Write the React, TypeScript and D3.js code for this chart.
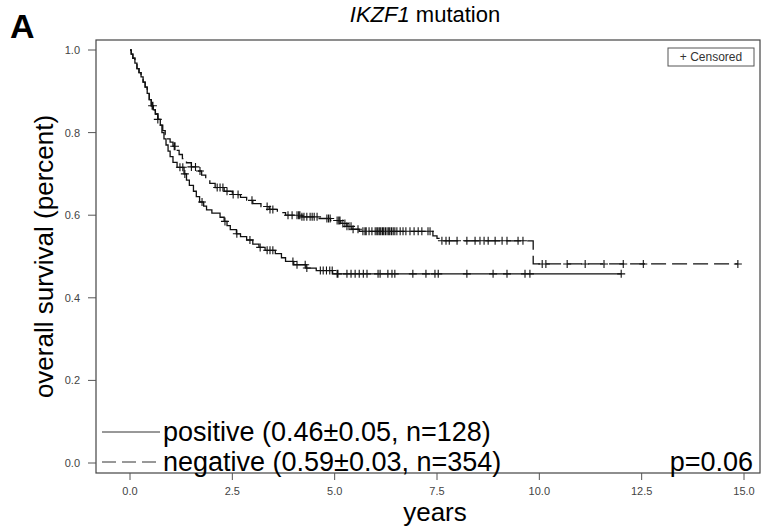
import * as d3 from "d3";

// step points: time (years) where survival drops, new survival
const sharedTimes = [0.03, 0.07, 0.12, 0.17, 0.22, 0.27, 0.32, 0.37, 0.42, 0.47, 0.52, 0.57, 0.62, 0.68, 0.74];
const sharedSurv = [0.99, 0.98, 0.968, 0.955, 0.945, 0.935, 0.922, 0.91, 0.895, 0.88, 0.865, 0.855, 0.845, 0.832, 0.818];

const positiveTimes = [0.78, 0.83, 0.88, 0.93, 0.98, 1.05, 1.15, 1.32, 1.38, 1.45, 1.55, 1.62, 1.7, 1.8, 1.87, 2.0, 2.2, 2.3, 2.37, 2.45, 2.6, 2.7, 2.85, 3.0, 3.15, 3.3, 3.55, 3.7, 3.8, 4.0, 4.3, 4.55, 4.95];
const positiveSurv = [0.8, 0.785, 0.77, 0.755, 0.742, 0.728, 0.716, 0.7, 0.685, 0.672, 0.658, 0.645, 0.632, 0.622, 0.613, 0.605, 0.595, 0.585, 0.575, 0.565, 0.555, 0.548, 0.54, 0.53, 0.522, 0.515, 0.507, 0.497, 0.488, 0.48, 0.472, 0.466, 0.458];
const positiveEnd = 12.0;
const positiveCensored = [1.22, 1.29, 1.34, 1.76, 2.32, 2.61, 2.93, 3.18, 3.35, 3.42, 3.49, 3.98, 4.08, 4.28, 4.32, 4.65, 4.72, 4.8, 4.88, 4.94, 5.06, 5.08, 5.3, 5.4, 5.5, 5.6, 5.7, 5.79, 6.06, 6.11, 6.3, 6.4, 6.47, 6.91, 7.23, 7.45, 7.53, 8.23, 8.87, 9.21, 9.65, 9.77, 12.0];

const negativeTimes = [0.8, 0.86, 0.92, 0.98, 1.05, 1.12, 1.2, 1.28, 1.38, 1.5, 1.62, 1.75, 1.85, 1.95, 2.08, 2.3, 2.5, 2.7, 2.85, 3.0, 3.2, 3.4, 3.6, 3.8, 4.2, 4.6, 4.9, 5.15, 5.3, 5.42, 5.6, 7.4, 7.5, 7.6, 9.85];
const negativeSurv = [0.805, 0.795, 0.785, 0.777, 0.767, 0.757, 0.747, 0.737, 0.727, 0.717, 0.707, 0.697, 0.687, 0.677, 0.667, 0.658, 0.65, 0.643, 0.636, 0.628, 0.621, 0.614, 0.606, 0.6, 0.596, 0.592, 0.587, 0.58, 0.573, 0.566, 0.561, 0.55, 0.544, 0.538, 0.482];
const negativeEnd = 14.85;
const negativeCensored = [0.54, 0.56, 0.68, 1.08, 1.1, 1.5, 1.6, 1.71, 2.13, 2.2, 2.27, 2.37, 2.52, 2.64, 2.98, 3.35, 3.42, 3.49, 3.86, 3.96, 4.08, 4.12, 4.15, 4.2, 4.25, 4.32, 4.4, 4.45, 4.5, 4.57, 4.81, 4.85, 4.89, 5.06, 5.1, 5.13, 5.2, 5.25, 5.3, 5.35, 5.4, 5.45, 5.57, 5.69, 5.74, 5.77, 5.84, 5.91, 5.99, 6.03, 6.06, 6.1, 6.13, 6.17, 6.2, 6.24, 6.28, 6.32, 6.35, 6.39, 6.43, 6.47, 6.52, 6.6, 6.67, 6.74, 6.84, 6.94, 7.04, 7.13, 7.28, 7.33, 7.62, 7.72, 7.8, 7.99, 8.23, 8.43, 8.55, 8.65, 8.75, 8.92, 9.09, 9.21, 9.48, 9.6, 10.07, 10.16, 10.68, 11.12, 11.58, 12.05, 12.54, 14.85];

const xTicks = [0, 2.5, 5, 7.5, 10, 12.5, 15];
const yTicks = [0, 0.2, 0.4, 0.6, 0.8, 1.0];
const legendLabels = ["positive (0.46\u00b10.05, n=128)", "negative (0.59\u00b10.03, n=354)"];

const W = 767;
const H = 527;
const box = { left: 96, right: 760, top: 40, bottom: 473 };
const font = "'Liberation Sans', Arial, sans-serif";

export default function App() {
  const x = d3.scaleLinear().domain([0, 15]).range([130, 744]);
  const y = d3.scaleLinear().domain([0, 1]).range([463, 50]);

  // full step list for a group: shared start + own steps + end point
  const buildSteps = (times: number[], surv: number[], end: number) => {
    const pts: [number, number][] = [[0, 1]];
    sharedTimes.forEach((t, i) => pts.push([t, sharedSurv[i]]));
    times.forEach((t, i) => pts.push([t, surv[i]]));
    pts.push([end, surv[surv.length - 1]]);
    return pts;
  };
  const survAt = (pts: [number, number][], t: number) => {
    let s = 1;
    for (const p of pts) if (p[0] <= t) s = p[1];
    return s;
  };

  const posPts = buildSteps(positiveTimes, positiveSurv, positiveEnd);
  const negPts = buildSteps(negativeTimes, negativeSurv, negativeEnd);

  const line = d3.line<[number, number]>()
    .x(d => x(d[0]))
    .y(d => y(d[1]))
    .curve(d3.curveStepAfter);

  const marks = (pts: [number, number][], times: number[]) =>
    times.map(t => {
      const cx = x(t), cy = y(survAt(pts, t));
      return `M${cx - 4},${cy}H${cx + 4}M${cx},${cy - 4}V${cy + 4}`;
    }).join("");

  return (
    <svg width={W} height={H} style={{ position: "absolute", left: 0, top: 0 }}>
      <rect width={W} height={H} fill="#fff" />
      <text x={10} y={38} fontFamily={font} fontWeight="bold" fontSize={34}>A</text>
      <text x={425} y={22} fontFamily={font} fontSize={22} textAnchor="middle">
        <tspan fontStyle="italic">IKZF1</tspan> mutation
      </text>

      <rect x={box.left} y={box.top} width={box.right - box.left} height={box.bottom - box.top}
        fill="none" stroke="#444" strokeWidth={1.2} />

      {yTicks.map(t => (
        <g key={t}>
          <line x1={88} x2={box.left} y1={y(t)} y2={y(t)} stroke="#555" />
          <text x={80} y={y(t) + 4} fontFamily={font} fontSize={11} fill="#444" textAnchor="end">{t.toFixed(1)}</text>
        </g>
      ))}
      {xTicks.map(t => (
        <g key={t}>
          <line x1={x(t)} x2={x(t)} y1={box.bottom} y2={box.bottom + 7} stroke="#555" />
          <text x={x(t)} y={495} fontFamily={font} fontSize={11} fill="#444" textAnchor="middle">{t.toFixed(1)}</text>
        </g>
      ))}

      <text x={435} y={521} fontFamily={font} fontSize={26} textAnchor="middle">years</text>
      <text transform={`translate(53,${(box.top + box.bottom) / 2}) rotate(-90)`}
        fontFamily={font} fontSize={26} textAnchor="middle">overall survival (percent)</text>

      <path d={line(posPts) || ""} fill="none" stroke="#111" strokeWidth={1.3} />
      <path d={line(negPts) || ""} fill="none" stroke="#111" strokeWidth={1.3} strokeDasharray="15 6" />
      <path d={marks(posPts, positiveCensored)} fill="none" stroke="#111" strokeWidth={1.1} />
      <path d={marks(negPts, negativeCensored)} fill="none" stroke="#111" strokeWidth={1.1} />

      <rect x={668} y={48} width={86} height={18} fill="#fff" stroke="#555" />
      <text x={711} y={61} fontFamily={font} fontSize={12} fill="#333" textAnchor="middle">+ Censored</text>

      <line x1={102} x2={160} y1={432} y2={432} stroke="#333" />
      <text x={163} y={441} fontFamily={font} fontSize={27}>{legendLabels[0]}</text>
      <line x1={102} x2={160} y1={462} y2={462} stroke="#333" strokeDasharray="14 6" />
      <text x={163} y={471} fontFamily={font} fontSize={27}>{legendLabels[1]}</text>
      <text x={753} y={471} fontFamily={font} fontSize={27} textAnchor="end">p=0.06</text>
    </svg>
  );
}
